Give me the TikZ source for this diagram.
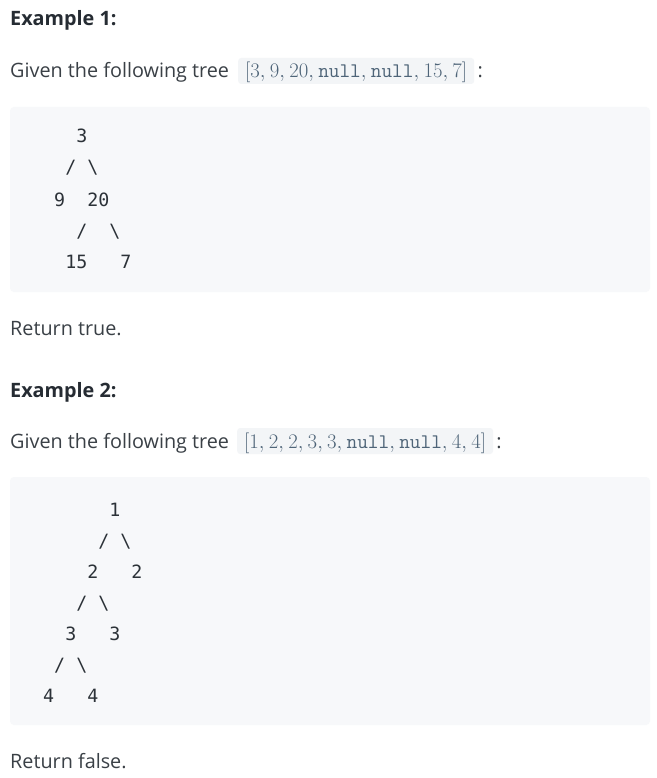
\documentclass[tikz,border=0pt]{standalone}
\usepackage[no-math]{fontspec}
\setmainfont{Open Sans}
\newfontfamily\codefont{DejaVu Sans Mono}
\definecolor{headc}{HTML}{262C33}
\definecolor{bodyc}{HTML}{3A4046}
\definecolor{codec}{HTML}{2C3238}
\definecolor{codebg}{HTML}{F7F8FA}
\definecolor{inlinebg}{HTML}{F3F5F7}
\definecolor{inlinec}{HTML}{4E6478}
% comma followed by a fixed gap inside the inline arrays
\newcommand\arrsep{{,}\hspace{4.3pt}}
\begin{document}
\begin{tikzpicture}[x=1pt,y=-1pt,
  heading/.style={anchor=base west, inner sep=0pt, text=headc,
    font=\fontsize{19.8}{24}\selectfont\bfseries},
  body/.style={anchor=base west, inner sep=0pt, text=bodyc,
    font=\fontsize{19.8}{24}\selectfont},
  inline/.style={anchor=base west, fill=inlinebg, rounded corners=3pt,
    inner xsep=7pt, inner ysep=0pt, text depth=6pt,
    text height=20pt, text=inlinec, font=\fontsize{19.5}{24}\selectfont},
  treeline/.style={anchor=base west, inner sep=0pt, text=codec,
    font=\codefont\fontsize{18.3}{22}\selectfont}]
\useasboundingbox (0,0) rectangle (656,778);
\fill[white] (0,0) rectangle (656,778);

% ---- Example 1 ----
\node[heading] (h1) at (10,26) {Example 1:};
\node[body] (g1) at (10,78) {Given the following tree};
\node[inline] (c1) at (238,78) {$[3\arrsep 9\arrsep 20\arrsep \mathtt{null}\arrsep \mathtt{null}\arrsep 15\arrsep 7]$};
\node[body] (k1) at (c1.base east) [anchor=base west, xshift=3pt] {:};
\fill[codebg, rounded corners=4pt] (10,107) rectangle (650,292);
\node[treeline] (t1a) at (32,143) {~~~~3};
\node[treeline] (t1b) at (32,174) {~~~/~\textbackslash};
\node[treeline] (t1c) at (32,206) {~~9~~20};
\node[treeline] (t1d) at (32,237) {~~~~/~~\textbackslash};
\node[treeline] (t1e) at (32,268) {~~~15~~~7};
\node[body] (r1) at (10,335) {Return true.};

% ---- Example 2 ----
\node[heading] (h2) at (10,397) {Example 2:};
\node[body] (g2) at (10,448) {Given the following tree};
\node[inline] (c2) at (237,448) {$[1\arrsep 2\arrsep 2\arrsep 3\arrsep 3\arrsep \mathtt{null}\arrsep \mathtt{null}\arrsep 4\arrsep 4]$};
\node[body] (k2) at (c2.base east) [anchor=base west, xshift=3pt] {:};
\fill[codebg, rounded corners=4pt] (10,477) rectangle (650,725);
\node[treeline] (t2a) at (32,516) {~~~~~~~1};
\node[treeline] (t2b) at (32,547) {~~~~~~/~\textbackslash};
\node[treeline] (t2c) at (32,578) {~~~~~2~~~2};
\node[treeline] (t2d) at (32,609) {~~~~/~\textbackslash};
\node[treeline] (t2e) at (32,640) {~~~3~~~3};
\node[treeline] (t2f) at (32,671) {~~/~\textbackslash};
\node[treeline] (t2g) at (32,702) {~4~~~4};
\node[body] (r2) at (10,768) {Return false.};
\end{tikzpicture}
\end{document}
